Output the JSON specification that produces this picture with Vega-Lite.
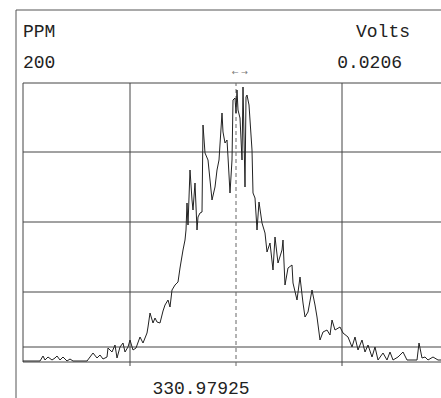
{
  "$schema": "https://vega.github.io/schema/vega-lite/v6.json",
  "autosize": "none",
  "width": 418,
  "height": 279,
  "padding": {"left": 23, "top": 83, "right": 0, "bottom": 36},
  "background": "white",
  "config": {"view": {"stroke": null}},
  "datasets": {
    "trace": [
      {"x":0,"y":1},{"x":17,"y":1},{"x":20,"y":6},{"x":22,"y":2},{"x":25,"y":5},{"x":29,"y":2},{"x":32,"y":4},{"x":34,"y":6},{"x":37,"y":2},{"x":40,"y":5},{"x":44,"y":1},{"x":47,"y":3},{"x":50,"y":1},{"x":64,"y":1},{"x":67,"y":5},{"x":70,"y":9},{"x":74,"y":4},{"x":77,"y":7},{"x":80,"y":3},{"x":84,"y":5},{"x":85,"y":14},{"x":89,"y":10},{"x":92,"y":17},{"x":94,"y":4},{"x":97,"y":15},{"x":100,"y":19},{"x":102,"y":10},{"x":105,"y":15},{"x":107,"y":22},{"x":110,"y":12},{"x":113,"y":14},{"x":117,"y":25},{"x":120,"y":19},{"x":124,"y":29},{"x":125,"y":35},{"x":127,"y":49},{"x":130,"y":39},{"x":132,"y":44},{"x":134,"y":40},{"x":137,"y":39},{"x":140,"y":51},{"x":142,"y":57},{"x":145,"y":62},{"x":147,"y":55},{"x":149,"y":72},{"x":152,"y":77},{"x":155,"y":80},{"x":157,"y":94},{"x":160,"y":112},{"x":162,"y":122},{"x":163,"y":132},{"x":164,"y":159},{"x":165,"y":137},{"x":167,"y":192},{"x":169,"y":162},{"x":170,"y":152},{"x":172,"y":179},{"x":174,"y":132},{"x":175,"y":145},{"x":177,"y":149},{"x":179,"y":150},{"x":180,"y":237},{"x":182,"y":209},{"x":185,"y":202},{"x":187,"y":182},{"x":189,"y":162},{"x":192,"y":175},{"x":194,"y":192},{"x":196,"y":202},{"x":199,"y":249},{"x":200,"y":230},{"x":202,"y":219},{"x":204,"y":222},{"x":205,"y":205},{"x":207,"y":169},{"x":209,"y":202},{"x":210,"y":262},{"x":212,"y":264},{"x":213,"y":249},{"x":214,"y":272},{"x":215,"y":252},{"x":217,"y":244},{"x":219,"y":202},{"x":220,"y":275},{"x":221,"y":225},{"x":222,"y":175},{"x":223,"y":265},{"x":224,"y":267},{"x":226,"y":257},{"x":229,"y":212},{"x":230,"y":169},{"x":232,"y":164},{"x":234,"y":132},{"x":236,"y":160},{"x":239,"y":139},{"x":242,"y":129},{"x":244,"y":110},{"x":247,"y":119},{"x":250,"y":92},{"x":252,"y":125},{"x":255,"y":99},{"x":259,"y":112},{"x":260,"y":122},{"x":262,"y":77},{"x":265,"y":94},{"x":269,"y":97},{"x":270,"y":79},{"x":274,"y":62},{"x":277,"y":85},{"x":280,"y":59},{"x":282,"y":45},{"x":285,"y":50},{"x":289,"y":72},{"x":292,"y":57},{"x":294,"y":45},{"x":297,"y":22},{"x":300,"y":30},{"x":304,"y":32},{"x":307,"y":27},{"x":309,"y":42},{"x":312,"y":32},{"x":317,"y":35},{"x":320,"y":29},{"x":325,"y":25},{"x":329,"y":15},{"x":332,"y":25},{"x":335,"y":12},{"x":339,"y":22},{"x":342,"y":10},{"x":345,"y":17},{"x":349,"y":5},{"x":352,"y":15},{"x":355,"y":2},{"x":360,"y":9},{"x":364,"y":2},{"x":367,"y":10},{"x":370,"y":2},{"x":375,"y":5},{"x":380,"y":10},{"x":384,"y":2},{"x":390,"y":2},{"x":394,"y":2},{"x":396,"y":19},{"x":399,"y":4},{"x":402,"y":5},{"x":405,"y":2},{"x":410,"y":5},{"x":415,"y":2},{"x":418,"y":2}
    ],
    "hlines": [{"y":0},{"y":15},{"y":70},{"y":140},{"y":210},{"y":279}],
    "vsolid": [{"x":0,"y0":0,"y1":279},{"x":107,"y0":-4,"y1":279},{"x":319,"y0":-4,"y1":279}],
    "vdash": [{"x":213,"y0":-4,"y1":279}],
    "frame": [{"x0":-7,"x1":-7,"y0":-36,"y1":352},{"x0":-7,"x1":418,"y0":352,"y1":352}],
    "labelsLeft": [{"x":0,"y":330,"t":"PPM"},{"x":0,"y":299,"t":"200"}],
    "labelsRight": [{"x":387,"y":330,"t":"Volts"},{"x":379,"y":299,"t":"0.0206"}],
    "labelsBottom": [{"x":178,"y":-27,"t":"330.97925"}],
    "arrows": [{"x":217,"y":289,"t":"\u2190 \u2192"}]
  },
  "layer": [
    {
      "data": {"name": "frame"},
      "mark": {"type": "rule", "color": "#555", "strokeWidth": 1},
      "encoding": {
        "x": {"field": "x0", "type": "quantitative", "scale": {"domain": [0, 418], "nice": false, "zero": false}, "axis": null},
        "x2": {"field": "x1"},
        "y": {"field": "y0", "type": "quantitative", "scale": {"domain": [0, 279], "nice": false, "zero": false}, "axis": null},
        "y2": {"field": "y1"}
      }
    },
    {
      "data": {"name": "hlines"},
      "mark": {"type": "rule", "color": "#444", "strokeWidth": 1},
      "encoding": {
        "y": {"field": "y", "type": "quantitative", "scale": {"domain": [0, 279], "nice": false, "zero": false}, "axis": null}
      }
    },
    {
      "data": {"name": "vsolid"},
      "mark": {"type": "rule", "color": "#444", "strokeWidth": 1},
      "encoding": {
        "x": {"field": "x", "type": "quantitative", "scale": {"domain": [0, 418], "nice": false, "zero": false}, "axis": null},
        "y": {"field": "y0", "type": "quantitative", "scale": {"domain": [0, 279], "nice": false, "zero": false}, "axis": null},
        "y2": {"field": "y1"}
      }
    },
    {
      "data": {"name": "vdash"},
      "mark": {"type": "rule", "color": "#666", "strokeWidth": 1, "strokeDash": [4, 3]},
      "encoding": {
        "x": {"field": "x", "type": "quantitative", "scale": {"domain": [0, 418], "nice": false, "zero": false}, "axis": null},
        "y": {"field": "y0", "type": "quantitative", "scale": {"domain": [0, 279], "nice": false, "zero": false}, "axis": null},
        "y2": {"field": "y1"}
      }
    },
    {
      "data": {"name": "trace"},
      "mark": {"type": "line", "color": "#222", "strokeWidth": 1, "interpolate": "linear"},
      "encoding": {
        "x": {"field": "x", "type": "quantitative", "scale": {"domain": [0, 418], "nice": false, "zero": false}, "axis": null},
        "y": {"field": "y", "type": "quantitative", "scale": {"domain": [0, 279], "nice": false, "zero": false}, "axis": null}
      }
    },
    {
      "data": {"name": "labelsLeft"},
      "mark": {"type": "text", "font": "Liberation Mono", "fontSize": 18, "align": "left", "baseline": "middle", "color": "#222"},
      "encoding": {
        "x": {"field": "x", "type": "quantitative", "scale": {"domain": [0, 418], "nice": false, "zero": false}, "axis": null},
        "y": {"field": "y", "type": "quantitative", "scale": {"domain": [0, 279], "nice": false, "zero": false}, "axis": null},
        "text": {"field": "t"}
      }
    },
    {
      "data": {"name": "labelsRight"},
      "mark": {"type": "text", "font": "Liberation Mono", "fontSize": 18, "align": "right", "baseline": "middle", "color": "#222"},
      "encoding": {
        "x": {"field": "x", "type": "quantitative", "scale": {"domain": [0, 418], "nice": false, "zero": false}, "axis": null},
        "y": {"field": "y", "type": "quantitative", "scale": {"domain": [0, 279], "nice": false, "zero": false}, "axis": null},
        "text": {"field": "t"}
      }
    },
    {
      "data": {"name": "labelsBottom"},
      "mark": {"type": "text", "font": "Liberation Mono", "fontSize": 18, "align": "center", "baseline": "middle", "color": "#222"},
      "encoding": {
        "x": {"field": "x", "type": "quantitative", "scale": {"domain": [0, 418], "nice": false, "zero": false}, "axis": null},
        "y": {"field": "y", "type": "quantitative", "scale": {"domain": [0, 279], "nice": false, "zero": false}, "axis": null},
        "text": {"field": "t"}
      }
    },
    {
      "data": {"name": "arrows"},
      "mark": {"type": "text", "font": "DejaVu Sans", "fontSize": 8, "align": "center", "baseline": "middle", "color": "#777"},
      "encoding": {
        "x": {"field": "x", "type": "quantitative", "scale": {"domain": [0, 418], "nice": false, "zero": false}, "axis": null},
        "y": {"field": "y", "type": "quantitative", "scale": {"domain": [0, 279], "nice": false, "zero": false}, "axis": null},
        "text": {"field": "t"}
      }
    }
  ]
}
